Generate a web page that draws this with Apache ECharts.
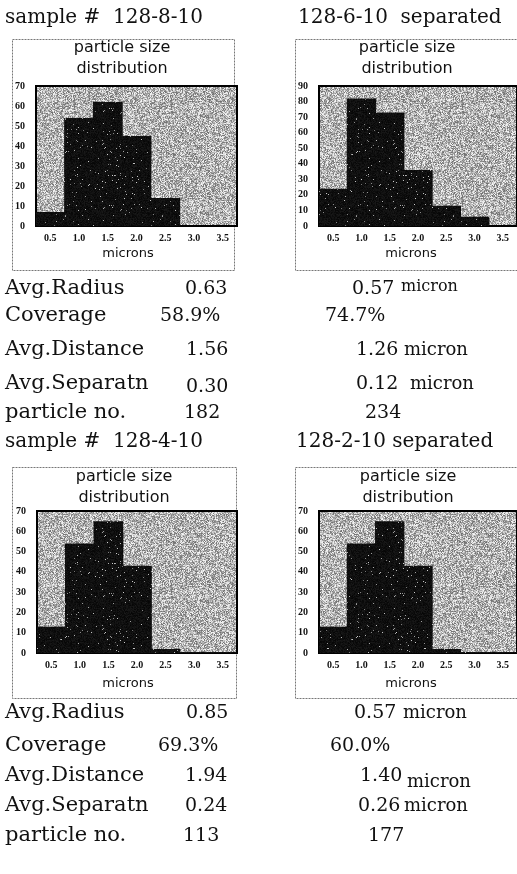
<!DOCTYPE html>
<html>
<head>
<meta charset="utf-8">
<script src="https://cdn.jsdelivr.net/npm/echarts@6/dist/echarts.min.js"></script>
<style>
html, body { margin: 0; padding: 0; background: #fff; }
#main { width: 517px; height: 874px; }
</style>
</head>
<body>
<div id="main"></div>
<script>
// histogram data
var sizeLabels = ['0.5', '1.0', '1.5', '2.0', '2.5', '3.0', '3.5'];
var counts_128_8_10 = [7, 54, 62, 45, 14, 0, 0];
var counts_128_6_10 = [24, 82, 73, 36, 13, 6, 0];
var counts_128_4_10 = [13, 54, 65, 43, 2, 0.5, 0.5];
var counts_128_2_10 = [13, 54, 65, 43, 2, 0.5, 0.5];
var yMax = [70, 90, 70, 70];

var sampleTitles = ['sample #  128-8-10', '128-6-10  separated', 'sample #  128-4-10', '128-2-10 separated'];
var statNames = ['Avg.Radius', 'Coverage', 'Avg.Distance', 'Avg.Separatn', 'particle no.'];
var stats_128_8_10 = ['0.63', '58.9%', '1.56', '0.30', '182'];
var stats_128_6_10 = ['0.57', '74.7%', '1.26', '0.12', '234'];
var stats_128_4_10 = ['0.85', '69.3%', '1.94', '0.24', '113'];
var stats_128_2_10 = ['0.57', '60.0%', '1.40', '0.26', '177'];
var statUnits = ['micron', '', 'micron', 'micron', ''];

var allCounts = [counts_128_8_10, counts_128_6_10, counts_128_4_10, counts_128_2_10];

// speckled textures like the photocopied chart fills
function speckle(seed, dark) {
    var n = 97;
    var c = document.createElement('canvas');
    c.width = n; c.height = n;
    var ctx = c.getContext('2d');
    var img = ctx.createImageData(n, n);
    var s = seed;
    for (var i = 0; i < n * n; i++) {
        s = (s * 1103515245 + 12345) & 0x7fffffff;
        var r = (s >> 7) / 16777216;
        var v;
        if (dark) {
            v = r < 0.02 ? 110 + r * 5000 : 5 + r * 20;
        } else {
            v = 110 + r * 140;
        }
        v = Math.min(255, v);
        img.data[i * 4] = v; img.data[i * 4 + 1] = v; img.data[i * 4 + 2] = v; img.data[i * 4 + 3] = 255;
    }
    ctx.putImageData(img, 0, 0);
    return { image: c, repeat: 'repeat' };
}
var greyFill = speckle(7, false);
var blackFill = speckle(13, true);

// panel layout: outer frame, plot area, title centre, axis name centre
var panels = [
    { box: [12, 39, 222, 231], grid: [36, 86, 201, 140], head: [122, 58], unit: [128, 254], title: [5, 18] },
    { box: [295, 39, 240, 231], grid: [319, 86, 204, 140], head: [407, 58], unit: [411, 254], title: [298, 18] },
    { box: [12, 467, 224, 231], grid: [37, 511, 200, 142], head: [124, 487], unit: [128, 684], title: [5, 442] },
    { box: [295, 467, 240, 231], grid: [319, 511, 204, 142], head: [408, 487], unit: [411, 684], title: [296, 442] }
];

var serif = 'DejaVu Serif';
var grids = [], xAxes = [], yAxes = [], series = [], graphics = [];

panels.forEach(function (p, k) {
    graphics.push({
        type: 'rect', z: -10,
        shape: { x: p.box[0] + 0.5, y: p.box[1] + 0.5, width: p.box[2], height: p.box[3] },
        style: { fill: '#fff', stroke: '#777', lineWidth: 1, lineDash: [2, 1] }
    });
    graphics.push({
        type: 'text', z: -5, x: p.head[0], y: p.head[1],
        style: {
            text: 'particle size\ndistribution', fill: '#111',
            font: '16px "DejaVu Sans"', textAlign: 'center', textVerticalAlign: 'middle', lineHeight: 21
        }
    });
    graphics.push({
        type: 'text', x: p.unit[0], y: p.unit[1],
        style: { text: 'microns', fill: '#111', font: '13px "DejaVu Sans"', textAlign: 'center', textVerticalAlign: 'middle' }
    });
    graphics.push({
        type: 'text', x: p.title[0], y: p.title[1],
        style: { text: sampleTitles[k], fill: '#111', font: '20px "' + serif + '"', textVerticalAlign: 'middle' }
    });

    grids.push({
        left: p.grid[0], top: p.grid[1], width: p.grid[2], height: p.grid[3],
        show: true, z: 1, backgroundColor: greyFill, borderColor: '#000', borderWidth: 2
    });
    xAxes.push({
        type: 'category', gridIndex: k, data: sizeLabels,
        axisLine: { show: false }, axisTick: { show: false },
        axisLabel: { fontFamily: 'Liberation Serif', fontWeight: 'bold', fontSize: 10, color: '#111', margin: 7 }
    });
    yAxes.push({
        type: 'value', gridIndex: k, min: 0, max: yMax[k], interval: 10,
        splitLine: { show: false }, axisLine: { show: false }, axisTick: { show: false },
        axisLabel: { fontFamily: 'Liberation Serif', fontWeight: 'bold', fontSize: 10, color: '#111', margin: 11 }
    });
    series.push({
        type: 'bar', xAxisIndex: k, yAxisIndex: k, z: 3,
        data: allCounts[k], barWidth: '104%',
        itemStyle: { color: blackFill }, silent: true
    });
});

// statistics under each pair of charts
function statText(str, x, y, size) {
    graphics.push({
        type: 'text', x: x, y: y,
        style: { text: str, fill: '#111', font: size + 'px "' + serif + '"', textVerticalAlign: 'middle' }
    });
}
var rowsTop = [289, 316, 350, 384, 413];
var rowsBottom = [713, 746, 776, 806, 836];
var leftValX_top = [185, 160, 186, 186, 184];
var leftValX_bottom = [186, 158, 185, 185, 183];
var rightValX_top = [352, 325, 356, 356, 365];
var rightValX_bottom = [354, 330, 360, 358, 368];
var unitX_top = [401, 0, 404, 410, 0];
var unitX_bottom = [403, 0, 407, 404, 0];

statNames.forEach(function (name, i) {
    var hasUnit = statUnits[i] !== '';
    statText(name, 5, rowsTop[i], 21);
    statText(stats_128_8_10[i], leftValX_top[i], rowsTop[i] + (i === 3 ? 3 : 0), 19);
    statText(stats_128_6_10[i], rightValX_top[i], rowsTop[i], 19);
    if (hasUnit) statText(statUnits[i], unitX_top[i], rowsTop[i] - (i === 0 ? 2 : 0), i === 0 ? 16 : 18);

    statText(name, 5, rowsBottom[i], 21);
    statText(stats_128_4_10[i], leftValX_bottom[i], rowsBottom[i], 19);
    statText(stats_128_2_10[i], rightValX_bottom[i], rowsBottom[i], 19);
    if (hasUnit) statText(statUnits[i], unitX_bottom[i], rowsBottom[i] + (i === 2 ? 6 : 0), 18);
});

var myChart = echarts.init(document.getElementById('main'));
myChart.setOption({
    backgroundColor: '#fff',
    animation: false,
    grid: grids,
    xAxis: xAxes,
    yAxis: yAxes,
    series: series,
    graphic: graphics
});
</script>
</body>
</html>
